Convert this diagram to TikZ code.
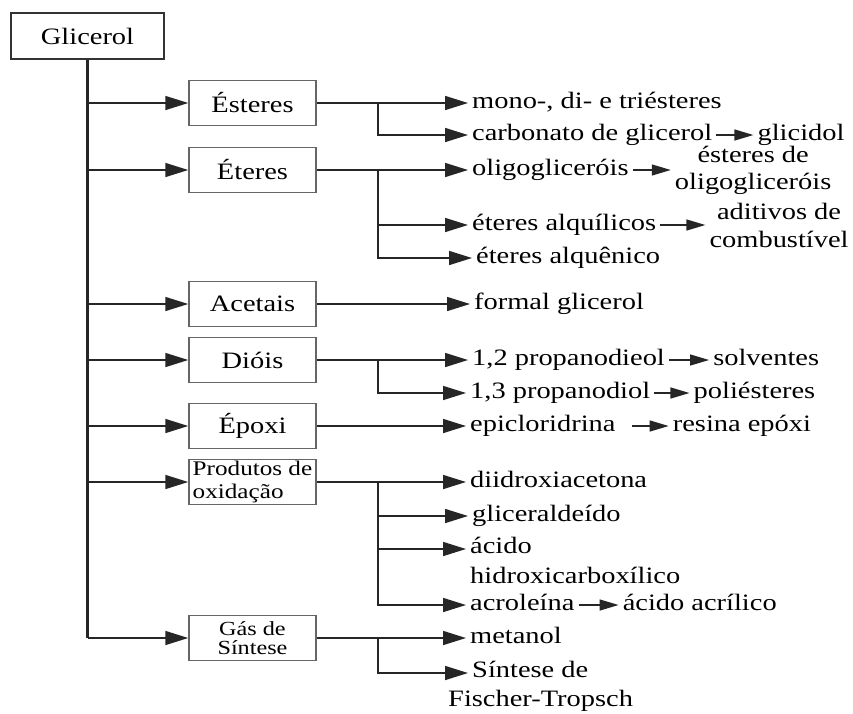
\documentclass[tikz,border=0pt]{standalone}
\usepackage{fontspec}
\setmainfont[FakeStretch=1.21]{Liberation Serif}
\usetikzlibrary{arrows.meta,positioning}

\begin{document}
\begin{tikzpicture}[
  x=1pt,
  y=-1pt,
  every node/.style={font=\fontsize{23.5}{27}\selectfont},
  line/.style={draw=black!85, line width=1.6pt},
  tip/.style={line, -{Triangle[length=23pt,width=14pt]}},
  ftip/.style={line, line width=1.3pt, -{Triangle[length=19pt,width=11pt]}},
  root/.style={draw=black!80, line width=1.8pt, minimum width=153pt, minimum height=46pt},
  cat/.style={draw=black!60, line width=1.5pt, minimum width=127pt, minimum height=45pt},
  prod/.style={anchor=west, inner xsep=4pt, inner ysep=2pt, text height=16pt, text depth=5.5pt},
  prodml/.style={inner xsep=4pt, inner ysep=2pt, align=center},
  node distance=40pt
]
\useasboundingbox (0,0) rectangle (853,713);

% raiz e classes
\node[root] (glic) at (87.5,36) {Glicerol};
\node[cat] (est) at (252.5,103) {Ésteres};
\node[cat] (ete) at (252.5,170) {Éteres};
\node[cat] (ace) at (252.5,304) {Acetais};
\node[cat] (dio) at (252.5,360) {Dióis};
\node[cat] (epo) at (252.5,426) {Époxi};
\node[cat, align=left, inner sep=1pt, font=\fontsize{20.8}{22.5}\selectfont] (oxi) at (252.5,482) {Produtos de\\oxidação};
\node[cat, align=center, font=\fontsize{20}{19}\selectfont] (gas) at (252.5,638) {Gás de\\Síntese};

% produtos
\coordinate (sx) at (378,0);
\node[prod] (mono) at (468,103) {mono-, di- e triésteres};
\node[prod] (carb) at (468,135) {carbonato de glicerol};
\node[prod, right=37pt of carb] (glici) {glicidol};
\node[prod] (oligo) at (468,170) {oligogliceróis};
\node[prodml, right=38pt of oligo] (estol) {ésteres de\\oligogliceróis};
\node[prod] (alqu) at (468,225) {éteres alquílicos};
\node[prodml, right=45pt of alqu, font=\fontsize{23.5}{28}\selectfont] (adit) {aditivos de\\combustível};
\node[prod] (alqn) at (472,258) {éteres alquênico};
\node[prod] (form) at (470,304) {formal glicerol};
\node[prod] (p12) at (468,360) {1,2 propanodieol};
\node[prod, right=40pt of p12] (solv) {solventes};
\node[prod] (p13) at (466,393) {1,3 propanodiol};
\node[prod, right=35pt of p13] (poli) {poliésteres};
\node[prod] (epi) at (466,426) {epicloridrina};
\node[prod, right=49pt of epi] (resi) {resina epóxi};
\node[prod] (diid) at (466,482) {diidroxiacetona};
\node[prod] (glald) at (468,516) {gliceraldeído};
\node[anchor=north west, inner xsep=4pt, inner ysep=2pt, align=left, font=\fontsize{23.5}{30}\selectfont] (acido) at (466,535) {ácido\\hidroxicarboxílico};
\node[prod] (acro) at (466,605) {acroleína};
\node[prod, right=40pt of acro] (acri) {ácido acrílico};
\node[prod] (meta) at (466,638) {metanol};
\node[anchor=north west, inner xsep=4pt, inner ysep=2pt, align=left, font=\fontsize{23.5}{29}\selectfont] (sint) at (444,659) {\hspace*{24pt}Síntese de\\Fischer-Tropsch};

% tronco
\draw[line, line width=2.2pt] (glic.south) -- (glic.south |- gas.west);
\foreach \c in {est,ete,ace,dio,epo,oxi,gas}
  \draw[tip] (glic.south |- \c.west) -- (\c.west);

% ramos
\draw[tip] (est.east) -- (mono.west);
\draw[tip] (sx |- est.east) |- (carb.west);
\draw[tip] (ete.east) -- (oligo.west);
\foreach \c in {alqu,alqn}
  \draw[tip] (sx |- ete.east) |- (\c.west);
\draw[tip] (ace.east) -- (form.west);
\draw[tip] (dio.east) -- (p12.west);
\draw[tip] (sx |- dio.east) |- (p13.west);
\draw[tip] (epo.east) -- (epi.west);
\draw[tip] (oxi.east) -- (diid.west);
\draw[tip] (sx |- oxi.east) |- (glald.west);
\draw[tip] (sx |- oxi.east) |- ([yshift=-14pt]acido.north west);
\draw[tip] (sx |- oxi.east) |- (acro.west);
\draw[tip] (gas.east) -- (meta.west);
\draw[tip] (sx |- gas.east) |- ([xshift=24pt,yshift=-14pt]sint.north west);

% derivados
\draw[ftip] (carb.east) -- (glici.west);
\draw[ftip] (oligo.east) -- (estol.west);
\draw[ftip] (alqu.east) -- (adit.west);
\draw[ftip] (p12.east) -- (solv.west);
\draw[ftip] (p13.east) -- (poli.west);
\draw[ftip, shorten <=12pt] (epi.east) -- (resi.west);
\draw[ftip] (acro.east) -- (acri.west);
\end{tikzpicture}
\end{document}
